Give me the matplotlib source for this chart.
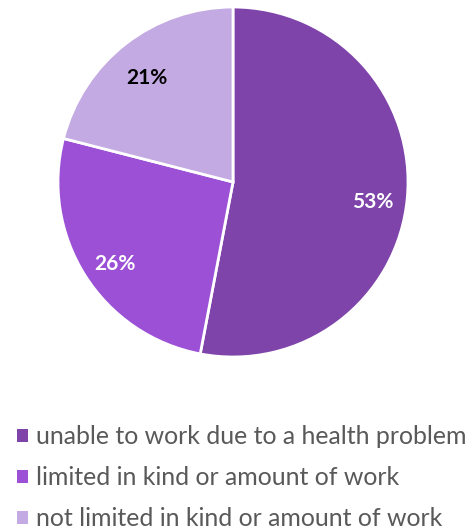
import matplotlib
matplotlib.use("Agg")
import matplotlib.pyplot as plt
from matplotlib.patches import Patch

plt.rcParams['font.family'] = ['Lato', 'DejaVu Sans']

labels = ["unable to work due to a health problem",
          "limited in kind or amount of work",
          "not limited in kind or amount of work"]
values = [53, 26, 21]
colors = ["#7E44AA", "#9B50D6", "#C4AAE3"]
pct_colors = ["white", "white", "black"]

fig = plt.figure(figsize=(4.75, 5.31), dpi=100)
ax = fig.add_axes([57 / 475, 174 / 531, 352 / 475, 350 / 531])

wedges, texts, autotexts = ax.pie(values, colors=colors, startangle=90, counterclock=False,
                                  autopct=lambda p: f"{round(p)}%", pctdistance=0.8,
                                  wedgeprops=dict(edgecolor="white", linewidth=2))
for t, c in zip(autotexts, pct_colors):
    t.set_color(c)
    t.set_fontsize(15)
    t.set_fontweight("bold")
    # excel-style labels sit a bit lower
    x, y = t.get_position()
    t.set_position((x, y - 0.04))
ax.set_xlim(-1, 1)
ax.set_ylim(-1, 1)
ax.set_aspect("equal")

handles = [Patch(facecolor=c, edgecolor="none") for c in colors]
fig.legend(handles, labels, loc="upper left", bbox_to_anchor=(-5 / 475, 1 - 403 / 531),
           frameon=False, fontsize=17.9, labelcolor="#595959",
           handlelength=0.41, handleheight=0.41, handletextpad=0.33, labelspacing=0.72)

fig.savefig("out.png", dpi=100)
